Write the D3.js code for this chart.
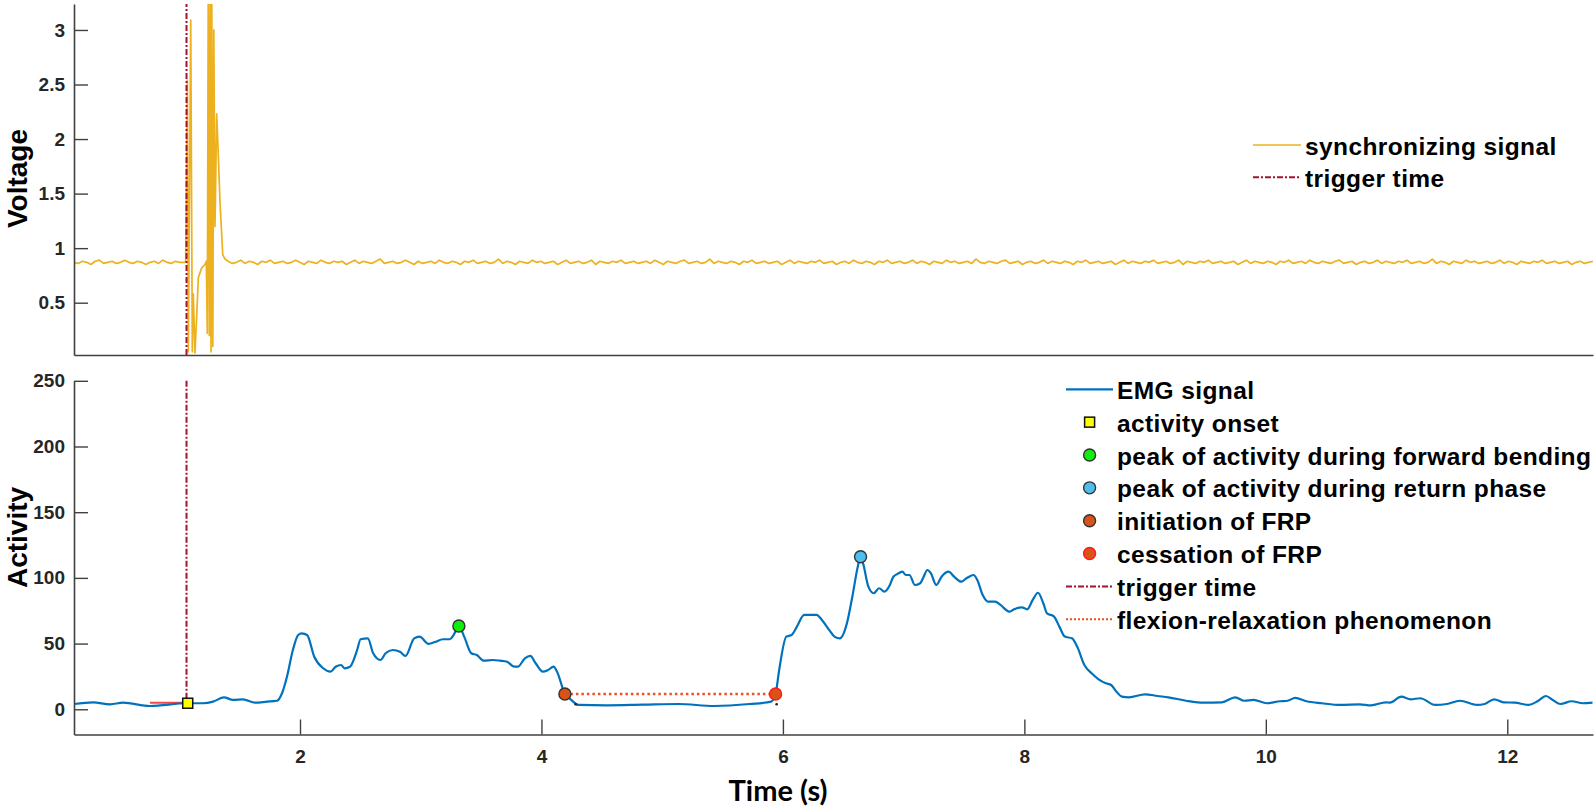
<!DOCTYPE html>
<html><head><meta charset="utf-8">
<script src="https://cdn.jsdelivr.net/npm/d3@7"></script>
<style>body{margin:0;background:#fff}svg{display:block}</style>
</head><body>
<svg id="c" width="1594" height="810"></svg>
<script>
// ---------- DATA ----------
const xTicks = [2, 4, 6, 8, 10, 12];
const voltTicks = [0.5, 1, 1.5, 2, 2.5, 3];
const actTicks = [0, 50, 100, 150, 200, 250];

const emgTime = [0.128,0.286,0.427,0.534,0.758,1.064,1.197,1.280,1.370,1.445,1.528,1.627,1.727,1.809,1.851,1.892,1.941,1.985,2.015,2.059,2.118,2.192,2.252,2.295,2.340,2.369,2.414,2.473,2.502,2.562,2.606,2.666,2.709,2.769,2.828,2.873,2.946,2.990,3.065,3.124,3.183,3.242,3.272,3.316,3.360,3.419,3.464,3.523,3.597,3.656,3.715,3.774,3.804,3.863,3.908,3.952,4.011,4.055,4.100,4.129,4.194,4.247,4.307,4.543,4.839,5.135,5.431,5.726,5.903,5.939,5.969,6.028,6.072,6.116,6.176,6.235,6.279,6.323,6.383,6.427,6.472,6.530,6.575,6.620,6.643,6.664,6.708,6.752,6.797,6.841,6.886,6.915,6.959,6.989,7.019,7.048,7.093,7.137,7.166,7.196,7.226,7.270,7.314,7.373,7.418,7.477,7.521,7.580,7.610,7.655,7.699,7.758,7.802,7.876,7.906,7.936,7.979,8.024,8.069,8.113,8.157,8.187,8.246,8.290,8.335,8.394,8.438,8.497,8.557,8.615,8.675,8.719,8.763,8.808,8.867,9.000,9.104,9.193,9.340,9.488,9.636,9.747,9.820,9.898,10.008,10.118,10.180,10.243,10.338,10.463,10.619,10.777,10.871,10.996,11.028,11.122,11.200,11.279,11.404,11.498,11.608,11.749,11.812,11.891,11.969,12.063,12.173,12.251,12.320,12.377,12.440,12.533,12.628,12.706];
const emgValue = [4.0,5.3,3.8,5.0,2.5,4.6,4.6,5.8,9.1,7.1,7.6,5.0,5.8,6.5,12.2,24.8,45.1,56.5,57.8,56.5,40.0,31.2,28.6,32.4,33.7,31.2,32.4,45.1,53.3,54.0,42.6,37.5,42.6,45.1,43.8,40.6,54.0,55.3,49.7,51.4,53.3,53.3,56.5,63.4,55.3,42.6,41.3,37.0,37.5,37.0,36.2,32.4,32.4,38.8,40.6,35.0,28.6,29.9,32.4,28.6,11.6,7.1,3.3,3.0,3.5,4.0,2.5,4.0,5.8,11.6,29.9,55.3,56.5,62.9,71.8,71.8,71.8,68.0,60.4,55.3,54.0,65.4,85.7,108.5,116.1,111.1,93.3,88.3,92.1,89.5,94.6,100.9,103.5,104.7,102.2,102.2,94.6,95.9,100.9,106.0,103.5,94.6,100.9,104.7,100.9,97.1,99.7,102.2,98.4,87.0,81.9,81.9,79.4,74.3,75.6,76.9,77.6,76.1,83.2,88.7,80.7,73.1,70.5,62.9,55.3,54.0,47.5,33.7,27.4,22.8,19.8,18.5,13.4,9.6,9.1,11.4,10.1,9.1,6.5,5.0,5.3,9.1,6.5,7.1,4.6,6.1,6.5,8.6,6.1,4.6,3.3,3.8,3.0,5.3,5.0,9.6,7.6,8.4,3.3,4.0,6.5,3.3,4.0,7.6,5.3,5.0,3.3,6.1,10.1,7.1,4.0,6.1,4.6,5.0];

// synchronizing signal: baseline before burst, burst, baseline after burst
const syncStep = 0.035;
const syncPreStart = 0.128;
const syncPre = [.87,.86,.88,.87,.85,.88,.89,.86,.87,.88,.86,.87,.89,.87,.86,.88,.87,.85,.87,.88,.86,.89,.87,.86,.88,.87,.87];
const syncBurstTime = [1.053,1.067,1.075,1.095,1.108,1.116,1.130,1.143,1.158,1.186,1.213,1.224,1.232,1.240,1.249,1.256,1.263,1.269,1.278,1.286,1.296,1.310,1.325,1.337,1.360,1.379];
const syncBurstValue = [0.87,2.54,0.05,3.09,0.05,0.58,0.04,0.35,0.73,0.82,0.85,0.88,0.22,3.4,0.2,3.4,0.05,3.4,0.1,3.0,1.2,2.23,1.8,1.43,0.94,0.90];
const syncPostStart = 1.404;
const syncPost = [
.88,.86,.87,.89,.86,.88,.87,.85,.88,.87,.89,.86,.87,.88,.86,.87,.89,.87,.85,.88,
.87,.86,.89,.87,.86,.88,.87,.88,.85,.87,.89,.86,.88,.87,.86,.88,.90,.86,.87,.88,
.86,.87,.89,.87,.85,.88,.86,.87,.88,.86,.89,.87,.86,.88,.87,.85,.88,.87,.89,.86,
.87,.88,.86,.87,.90,.86,.88,.87,.85,.88,.87,.86,.89,.87,.88,.86,.87,.88,.85,.87,
.89,.86,.87,.88,.86,.87,.89,.85,.88,.87,.86,.88,.87,.89,.86,.87,.88,.86,.87,.88,
.86,.89,.87,.85,.88,.87,.86,.88,.89,.86,.87,.88,.86,.87,.90,.86,.88,.87,.86,.88,
.87,.85,.88,.87,.89,.86,.87,.88,.86,.87,.88,.85,.87,.89,.86,.88,.87,.86,.88,.87,
.89,.86,.87,.88,.85,.87,.88,.86,.89,.87,.86,.88,.87,.85,.88,.87,.89,.86,.87,.88,
.86,.87,.89,.86,.88,.87,.85,.88,.87,.86,.89,.87,.88,.86,.87,.88,.86,.90,.87,.86,
.88,.87,.86,.88,.89,.86,.87,.88,.85,.87,.88,.86,.87,.89,.86,.88,.87,.86,.88,.87,
.85,.88,.87,.89,.86,.87,.88,.86,.87,.88,.85,.87,.89,.86,.88,.87,.86,.88,.87,.89,
.86,.87,.88,.86,.87,.89,.85,.88,.87,.86,.88,.87,.89,.86,.87,.88,.86,.87,.88,.85,
.87,.89,.86,.88,.87,.86,.88,.87,.85,.88,.87,.89,.86,.87,.88,.86,.89,.87,.86,.88,
.87,.86,.88,.89,.86,.87,.88,.85,.87,.88,.86,.87,.89,.86,.88,.87,.86,.88,.87,.89,
.86,.87,.88,.86,.87,.90,.86,.88,.87,.85,.88,.87,.86,.89,.87,.88,.86,.87,.88,.86,
.87,.89,.86,.88,.87,.85,.88,.87,.86,.88,.87,.89,.86,.87,.88,.86,.87,.88,.85,.87,
.88,.86,.87,.88];

const triggerTime = 1.06;
const triggerFrom = 4.6;      // activity level where trigger line ends (bottom panel)
const thresholdTimes = [0.758, 1.064];
const thresholdValue = 5.0;

const eventNames = ['activity onset','peak forward','peak return','initiation','cessation'];
const eventTimes = [1.07, 3.316, 6.643, 4.194, 5.939];
const eventValues = [4.6, 63.4, 116.1, 11.6, 11.6];
const frpDotTimes = [4.283, 5.948];
const frpDotValues = [4.6, 4.6];

const topLegendLabels = ['synchronizing signal', 'trigger time'];
const botLegendLabels = ['EMG signal','activity onset','peak of activity during forward bending','peak of activity during return phase','initiation of FRP','cessation of FRP','trigger time','flexion-relaxation phenomenon'];

// ---------- STYLE ----------
const C = {emg:'#0072bd', sync:'#edb120', trig:'#a2142f', frp:'#f05020', axis:'#404040', tick:'#262626'};
const svg = d3.select('#c');
const L = 74, R = 1593;
const x = d3.scaleLinear().domain([0.128, 12.71]).range([L, R]);
const yTop = d3.scaleLinear().domain([0.0205, 3.238]).range([355, 4]);
const yBot = d3.scaleLinear().domain([-19.2, 250]).range([734.5, 380.8]);

const defs = svg.append('defs');
defs.append('clipPath').attr('id','clipTop').append('rect').attr('x',L).attr('y',4).attr('width',R-L).attr('height',351);
defs.append('clipPath').attr('id','clipBot').append('rect').attr('x',L).attr('y',380).attr('width',R-L).attr('height',355);

// ---------- TOP PANEL ----------
const syncData = [];
syncPre.forEach((v,i)=>syncData.push([syncPreStart + i*syncStep, v]));
syncBurstTime.forEach((t,i)=>syncData.push([t, syncBurstValue[i]]));
syncPost.forEach((v,i)=>syncData.push([syncPostStart + i*syncStep, v]));

const gTop = svg.append('g').attr('clip-path','url(#clipTop)');
gTop.append('path').datum(syncData)
  .attr('d', d3.line().x(d=>x(d[0])).y(d=>yTop(d[1])))
  .attr('fill','none').attr('stroke',C.sync).attr('stroke-width',1.7).attr('stroke-linejoin','round');
gTop.append('line').attr('x1',x(triggerTime)).attr('x2',x(triggerTime))
  .attr('y1',yTop(yTop.domain()[0])).attr('y2',yTop(yTop.domain()[1]))
  .attr('stroke',C.trig).attr('stroke-width',2).attr('stroke-dasharray','6,2,2,2');

function styleAxis(g){
  g.selectAll('.domain').attr('stroke',C.axis).attr('stroke-width',1.6);
  g.selectAll('.tick line').attr('stroke',C.axis).attr('stroke-width',1.4);
  g.selectAll('.tick text').attr('fill',C.tick)
   .style('font-family','"Liberation Sans", Arial, sans-serif').style('font-size','19px').style('font-weight','bold');
}
svg.append('g').attr('transform',`translate(${L},0)`)
  .call(d3.axisLeft(yTop).tickValues(voltTicks).tickSizeInner(-14).tickSizeOuter(0).tickPadding(9).tickFormat(d=>String(d)))
  .call(styleAxis);
svg.append('g').attr('transform','translate(0,355)')
  .call(d3.axisBottom(x).tickValues([]).tickSizeOuter(0)).call(styleAxis);

// ---------- BOTTOM PANEL ----------
const emgData = emgTime.map((t,i)=>[t, emgValue[i]]);
const gBot = svg.append('g').attr('clip-path','url(#clipBot)');
gBot.append('line').attr('x1',x(thresholdTimes[0])).attr('x2',x(thresholdTimes[1]))
  .attr('y1',yBot(thresholdValue)).attr('y2',yBot(thresholdValue))
  .attr('stroke','#f04848').attr('stroke-width',2);
gBot.append('path').datum(emgData)
  .attr('d', d3.line().x(d=>x(d[0])).y(d=>yBot(d[1])).curve(d3.curveMonotoneX))
  .attr('fill','none').attr('stroke',C.emg).attr('stroke-width',2.2).attr('stroke-linejoin','round');
gBot.append('line').attr('x1',x(triggerTime)).attr('x2',x(triggerTime))
  .attr('y1',yBot(250)).attr('y2',yBot(triggerFrom))
  .attr('stroke',C.trig).attr('stroke-width',2).attr('stroke-dasharray','6,2,2,2');
// FRP dotted line
gBot.append('line').attr('x1',x(eventTimes[3])).attr('x2',x(eventTimes[4]))
  .attr('y1',yBot(eventValues[3])).attr('y2',yBot(eventValues[4]))
  .attr('stroke',C.frp).attr('stroke-width',2.5).attr('stroke-dasharray','2.5,3');
gBot.selectAll('circle.fd').data(frpDotTimes).join('circle').attr('class','fd')
  .attr('cx',d=>x(d)).attr('cy',(d,i)=>yBot(frpDotValues[i])+1).attr('r',1.3).attr('fill','#222');

const markerStyle = {
  'activity onset': {shape:'square', fill:'#ffff00', stroke:'#111'},
  'peak forward': {shape:'circle', fill:'#10ee10', stroke:'#333'},
  'peak return': {shape:'circle', fill:'#4dbeee', stroke:'#333'},
  'initiation': {shape:'circle', fill:'#d95319', stroke:'#333'},
  'cessation': {shape:'circle', fill:'#d95319', stroke:'#ff1a1a'}
};
function drawMarker(g, style, cx, cy){
  if(style.shape==='square'){
    g.append('rect').attr('x',cx-5).attr('y',cy-5).attr('width',10).attr('height',10)
      .attr('fill',style.fill).attr('stroke',style.stroke).attr('stroke-width',1.5);
  } else {
    g.append('circle').attr('cx',cx).attr('cy',cy).attr('r',6)
      .attr('fill',style.fill).attr('stroke',style.stroke).attr('stroke-width',1.4);
  }
}
const gMarks = svg.append('g');
eventNames.forEach((n,i)=>drawMarker(gMarks, markerStyle[n], x(eventTimes[i]), yBot(eventValues[i])));

svg.append('g').attr('transform',`translate(${L},0)`)
  .call(d3.axisLeft(yBot).tickValues(actTicks).tickSizeInner(-14).tickSizeOuter(0).tickPadding(9))
  .call(styleAxis);
svg.append('g').attr('transform','translate(0,734.5)')
  .call(d3.axisBottom(x).tickValues(xTicks).tickSizeInner(-15).tickSizeOuter(0).tickPadding(15))
  .call(styleAxis);

// ---------- AXIS LABELS ----------
const labFont = '"Liberation Sans", Arial, sans-serif';
svg.append('text').attr('transform','translate(27,178.5) rotate(-90)').attr('text-anchor','middle')
  .style('font-family',labFont).style('font-size','28px').style('font-weight','bold').attr('fill','#000').text('Voltage');
svg.append('text').attr('transform','translate(27,537.5) rotate(-90)').attr('text-anchor','middle')
  .style('font-family',labFont).style('font-size','28px').style('font-weight','bold').attr('fill','#000').text('Activity');
svg.append('text').attr('x',778).attr('y',801).attr('text-anchor','middle')
  .style('font-family','Lato, "Open Sans", sans-serif').style('font-size','29px').style('font-weight','bold').attr('fill','#000').text('Time (s)');

// ---------- LEGENDS ----------
function legendText(g, xx, yy, s){
  g.append('text').attr('x',xx).attr('y',yy+9.5)
    .style('font-family',labFont).style('font-size','24.5px').style('font-weight','bold')
    .style('letter-spacing','0.4px').attr('fill','#000').text(s);
}
const gLT = svg.append('g');
topLegendLabels.forEach((s,i)=>{
  const yy = 145 + i*32.3;
  const ln = gLT.append('line').attr('x1',1253).attr('x2',1301).attr('y1',yy).attr('y2',yy);
  if(i===0) ln.attr('stroke',C.sync).attr('stroke-width',1.3);
  else ln.attr('stroke',C.trig).attr('stroke-width',2).attr('stroke-dasharray','6,2,2,2');
  legendText(gLT, 1305, yy, s);
});
const gLB = svg.append('g');
const botLegendMarker = [null,'activity onset','peak forward','peak return','initiation','cessation',null,null];
botLegendLabels.forEach((s,i)=>{
  const yy = 389.3 + i*32.85;
  if(i===0){
    gLB.append('line').attr('x1',1066).attr('x2',1113).attr('y1',yy).attr('y2',yy).attr('stroke',C.emg).attr('stroke-width',2.2);
  } else if(i===6){
    gLB.append('line').attr('x1',1066).attr('x2',1113).attr('y1',yy).attr('y2',yy).attr('stroke',C.trig).attr('stroke-width',2).attr('stroke-dasharray','6,2,2,2');
  } else if(i===7){
    gLB.append('line').attr('x1',1066).attr('x2',1113).attr('y1',yy).attr('y2',yy).attr('stroke',C.frp).attr('stroke-width',2.2).attr('stroke-dasharray','2,2');
  } else {
    const st = Object.assign({}, markerStyle[botLegendMarker[i]]);
    drawMarker(gLB, st, 1089.6, yy);
  }
  legendText(gLB, 1117, yy, s);
});
</script>
</body></html>
